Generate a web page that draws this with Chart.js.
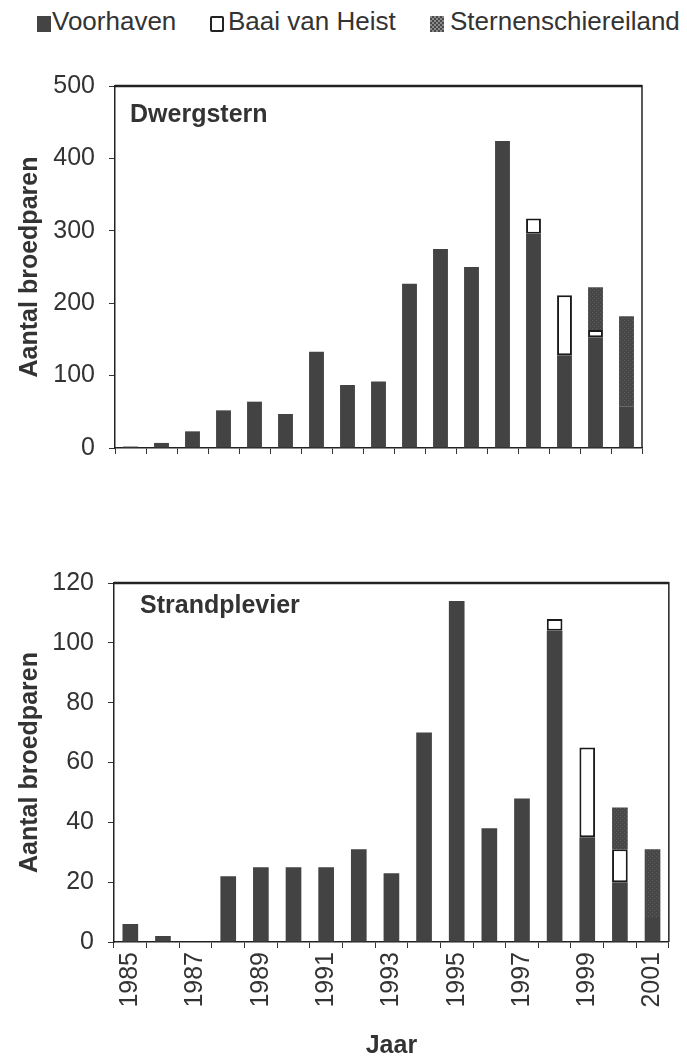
<!DOCTYPE html>
<html><head><meta charset="utf-8">
<script src="https://cdn.jsdelivr.net/npm/chart.js@4"></script>
<style>
body{margin:0;background:#fff;width:687px;height:1061px;position:relative;overflow:hidden;font-family:"Liberation Sans",Arial,sans-serif;color:#333}
.lg{position:absolute;font-size:26px;line-height:26px;top:8px;white-space:nowrap}
.sw{position:absolute;width:14px;height:16px;top:16px;box-sizing:border-box}
.ttl{position:absolute;font-weight:bold;font-size:25px;line-height:25px;white-space:nowrap}
canvas{position:absolute;left:0}
</style></head><body>
<div class="sw" style="left:37px;background:#444"></div>
<div class="lg" style="left:52px">Voorhaven</div>
<div class="sw" style="left:210px;border:2px solid #222;border-radius:2px;background:#fff"></div>
<div class="lg" style="left:228px">Baai van Heist</div>
<div class="sw" style="left:430px;background:repeating-conic-gradient(#4a4a4a 0 25%,#8a8a8a 0 50%) 0 0/4px 4px"></div>
<div class="lg" style="left:450px">Sternenschiereiland</div>
<canvas id="c1" width="687" height="480" style="top:0;width:687px;height:480px"></canvas>
<canvas id="c2" width="687" height="541" style="top:520px;width:687px;height:541px"></canvas>
<div class="ttl" style="left:130px;top:101px">Dwergstern</div>
<div class="ttl" style="left:140px;top:592px">Strandplevier</div>
<script>
const years = ['1985','1986','1987','1988','1989','1990','1991','1992','1993','1994','1995','1996','1997','1998','1999','2000','2001'];
const dwergVoorhaven = [2, 7, 23, 52, 64, 47, 133, 87, 92, 227, 275, 250, 424, 296, 128, 153, 57];
const dwergBaai      = [0, 0, 0, 0, 0, 0, 0, 0, 0, 0, 0, 0, 0, 21, 83, 10, 0];
const dwergSternen   = [0, 0, 0, 0, 0, 0, 0, 0, 0, 0, 0, 0, 0, 0, 0, 59, 125];
const plevVoorhaven  = [6, 2, 0, 22, 25, 25, 25, 31, 23, 70, 114, 38, 48, 104, 35, 20, 8];
const plevBaai       = [0, 0, 0, 0, 0, 0, 0, 0, 0, 0, 0, 0, 0, 4, 30, 11, 0];
const plevSternen    = [0, 0, 0, 0, 0, 0, 0, 0, 0, 0, 0, 0, 0, 0, 0, 14, 23];
const dwergTicks = {min: 0, max: 500, step: 100};
const plevTicks = {min: 0, max: 120, step: 20};

const frame = {id:'frame', afterDraw(chart){
  const {ctx, chartArea:a} = chart;
  ctx.save(); ctx.strokeStyle='#222';
  ctx.lineWidth=2.5; ctx.beginPath(); ctx.moveTo(a.left,a.top); ctx.lineTo(a.right,a.top); ctx.stroke();
  ctx.lineWidth=1.5; ctx.beginPath(); ctx.moveTo(a.right,a.top-1); ctx.lineTo(a.right,a.bottom); ctx.stroke();
  ctx.restore();
}};

function pattern(ctx){
  const c=document.createElement('canvas'); c.width=4; c.height=4;
  const x=c.getContext('2d'); x.fillStyle='#474747'; x.fillRect(0,0,4,4);
  x.fillStyle='#5c5c5c'; x.fillRect(0,0,1,1); x.fillRect(2,2,1,1);
  return ctx.createPattern(c,'repeat');
}

function makeChart(id, o){
  const cv=document.getElementById(id); const ctx=cv.getContext('2d');
  return new Chart(ctx, {
    type:'bar',
    data:{labels:years, datasets:[
      {label:'Voorhaven', data:o.v, backgroundColor:'#434343', borderWidth:0, stack:'a'},
      {label:'Baai van Heist', data:o.b, backgroundColor:'#ffffff', borderColor:'#1a1a1a', borderWidth:2, borderSkipped:false, stack:'a'},
      {label:'Sternenschiereiland', data:o.s, backgroundColor:pattern(ctx), borderWidth:0, stack:'a'}
    ]},
    options:{
      responsive:false, animation:false, devicePixelRatio:1,
      layout:{padding:{top:o.padTop, right:o.padRight, left:0, bottom:0}},
      datasets:{bar:{barPercentage:0.48, categoryPercentage:1}},
      plugins:{legend:{display:false}, tooltip:{enabled:false}},
      scales:{
        x:{stacked:true,
          afterFit(s){ s.height=o.xHeight; },
          grid:{drawOnChartArea:false, drawTicks:true, tickLength:6, color:'#333', offset:true},
          border:{display:true, color:'#222', width:1.5},
          ticks:{autoSkip:false, minRotation:90, maxRotation:90, padding:4, color:'#333',
            font:{family:'"Liberation Sans", Arial, sans-serif', size:25},
            callback(v,i){ return o.showX && i%2===0 ? years[i] : ''; }},
          title:{display:o.showX, text:'Jaar', color:'#333', padding:{top:0,bottom:0},
            font:{family:'"Liberation Sans", Arial, sans-serif', size:25, weight:'bold', lineHeight:1.2}}
        },
        y:{stacked:true, min:o.t.min, max:o.t.max,
          afterFit(s){ s.width=o.yWidth; },
          grid:{drawOnChartArea:false, drawTicks:true, tickLength:6, color:'#333'},
          border:{display:true, color:'#222', width:1.5},
          ticks:{stepSize:o.t.step, padding:14, color:'#333',
            font:{family:'"Liberation Sans", Arial, sans-serif', size:25}},
          title:{display:true, text:'Aantal broedparen', color:'#333', padding:{top:15,bottom:0},
            font:{family:'"Liberation Sans", Arial, sans-serif', size:25, weight:'bold', lineHeight:1.2}}
        }
      }
    },
    plugins:[frame]
  });
}

makeChart('c1', {v:dwergVoorhaven, b:dwergBaai, s:dwergSternen, t:dwergTicks, padTop:86, padRight:45, yWidth:115, xHeight:32, showX:false});
makeChart('c2', {v:plevVoorhaven, b:plevBaai, s:plevSternen, t:plevTicks, padTop:63, padRight:16, yWidth:114, xHeight:119, showX:true});
</script>
</body></html>
